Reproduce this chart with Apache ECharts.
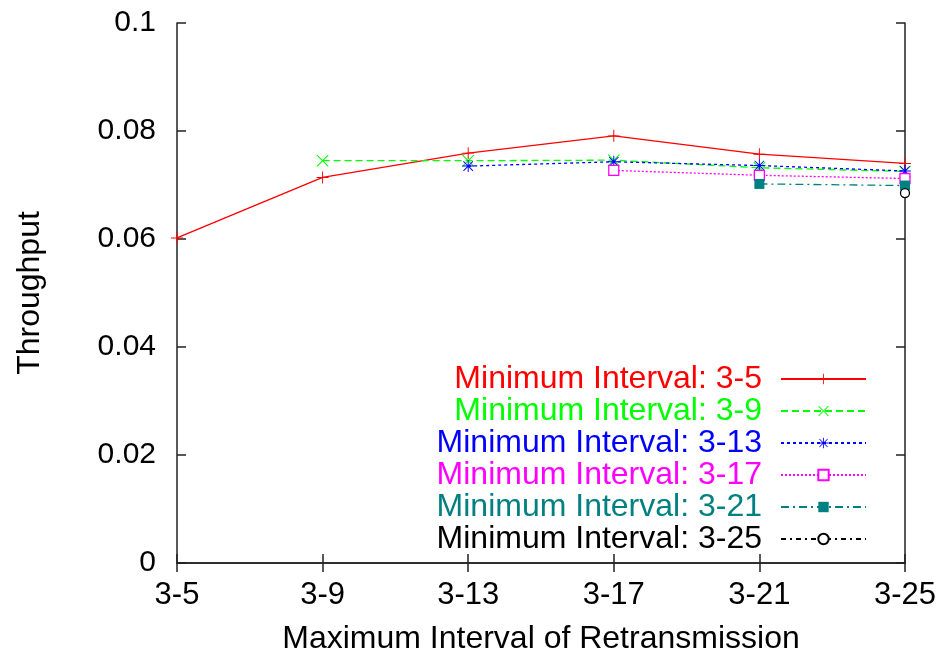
<!DOCTYPE html>
<html><head><meta charset="utf-8">
<script src="https://cdn.jsdelivr.net/npm/echarts@6/dist/echarts.min.js"></script>
<style>html,body{margin:0;padding:0;background:#fff}#c{width:939px;height:662px}</style>
</head><body><div id="c"></div>
<script>
const categories = ['3-5','3-9','3-13','3-17','3-21','3-25'];
const seriesNames = ['Minimum Interval: 3-5','Minimum Interval: 3-9','Minimum Interval: 3-13','Minimum Interval: 3-17','Minimum Interval: 3-21','Minimum Interval: 3-25'];
const min3_5  = [0.0602, 0.0714, 0.0759, 0.0791, 0.0757, 0.0740];
const min3_9  = [null, 0.0745, 0.0745, 0.0746, 0.0732, 0.0725];
const min3_13 = [null, null, 0.0735, 0.0743, 0.0736, 0.0726];
const min3_17 = [null, null, null, 0.0727, 0.0718, 0.0712];
const min3_21 = [null, null, null, null, 0.0702, 0.0699];
const min3_25 = [null, null, null, null, null, 0.0685];
const yTicks = [0, 0.02, 0.04, 0.06, 0.08, 0.1];

const colors = ['#ff0000','#00ff00','#0000ff','#ff00ff','#008080','#000000'];
const dashes = ['solid',[7,4],[3,3],[2,2],[8,4,2,4],[5,4,2,4]];
const PLUS = 'path://M0,4.6H10V5.4H0Z M4.6,0H5.4V10H4.6Z';
const CROSS = 'path://M0.6,0L5,4.4L9.4,0L10,0.6L5.6,5L10,9.4L9.4,10L5,5.6L0.6,10L0,9.4L4.4,5L0,0.6Z';
const STAR = 'path://M0,4.6H10V5.4H0Z M4.6,0H5.4V10H4.6Z M1.3,0.8L5,4.4L8.7,0.8L9.2,1.3L5.6,5L9.2,8.7L8.7,9.2L5,5.6L1.3,9.2L0.8,8.7L4.4,5L0.8,1.3Z';
const symbols = [PLUS, CROSS, STAR, 'rect', 'rect', 'circle'];
const symbolSizes = [12, 12, 12, 10, 10, 9];
const fills = ['#ff0000','#00ff00','#0000ff','#ffffff','#008080','#ffffff'];
const dataSets = [min3_5, min3_9, min3_13, min3_17, min3_21, min3_25];

const font = 'Liberation Sans, Arial, Helvetica, sans-serif';
const series = dataSets.map((d, i) => ({
  name: seriesNames[i],
  type: 'line',
  data: d,
  symbol: symbols[i],
  symbolSize: symbolSizes[i],
  showAllSymbol: true,
  connectNulls: false,
  lineStyle: { color: colors[i], width: 1.3, type: dashes[i] },
  itemStyle: { color: fills[i], borderColor: colors[i], borderWidth: (i === 3 || i === 5) ? 1.3 : 0 },
  emphasis: { disabled: true },
  animation: false
}));

const chart = echarts.init(document.getElementById('c'), null, { renderer: 'canvas' });
chart.setOption({
  backgroundColor: '#fff',
  animation: false,
  grid: { left: 177, right: 34, top: 23, bottom: 99, show: false },
  legend: {
    orient: 'vertical',
    right: 67,
    top: 358,
    align: 'right',
    itemWidth: 85,
    itemHeight: 13,
    itemGap: 0,
    selectedMode: false,
    data: seriesNames.map((n, i) => ({ name: n, textStyle: { color: colors[i] } })),
    textStyle: { fontSize: 32, fontFamily: font, padding: [0, 14, 0, 0] }
  },
  xAxis: [{
    type: 'category', data: categories, boundaryGap: false,
    name: 'Maximum Interval of Retransmission', nameLocation: 'middle', nameGap: 60,
    nameTextStyle: { fontSize: 32, fontFamily: font, color: '#000' },
    axisLine: { show: true, lineStyle: { color: '#222', width: 1.5 } },
    axisTick: { show: true, inside: true, length: 9, alignWithLabel: true, lineStyle: { color: '#222', width: 1.5 } },
    axisLabel: { fontSize: 31, fontFamily: font, color: '#000', margin: 17, interval: 0 },
    splitLine: { show: false }
  }, {
    type: 'category', data: categories, boundaryGap: false, position: 'top',
    axisLine: { show: true, lineStyle: { color: '#222', width: 1.5 } },
    axisTick: { show: true, inside: true, length: 9, lineStyle: { color: '#222', width: 1.5 } },
    axisLabel: { show: false }, splitLine: { show: false }
  }],
  yAxis: [{
    type: 'value', min: yTicks[0], max: yTicks[yTicks.length - 1], interval: 0.02,
    name: 'Throughput', nameLocation: 'middle', nameGap: 131,
    nameTextStyle: { fontSize: 32, fontFamily: font, color: '#000' },
    axisLine: { show: true, lineStyle: { color: '#222', width: 1.5 } },
    axisTick: { show: true, inside: true, length: 9, lineStyle: { color: '#222', width: 1.5 } },
    axisLabel: { fontSize: 30, fontFamily: font, color: '#000', margin: 21,
      formatter: v => String(+v.toFixed(2)) },
    splitLine: { show: false }
  }, {
    type: 'value', min: yTicks[0], max: yTicks[yTicks.length - 1], interval: 0.02, position: 'right',
    axisLine: { show: true, lineStyle: { color: '#222', width: 1.5 } },
    axisTick: { show: true, inside: true, length: 9, lineStyle: { color: '#222', width: 1.5 } },
    axisLabel: { show: false }, splitLine: { show: false }
  }],
  series: series
});
</script></body></html>
